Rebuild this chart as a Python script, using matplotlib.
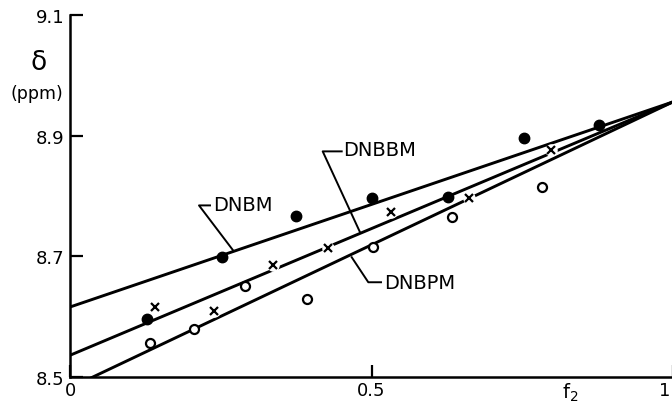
import matplotlib
matplotlib.use("Agg")
import matplotlib.pyplot as plt
from matplotlib.transforms import ScaledTranslation

# ---- data ----
# DNBM (filled circles)
dnbm_x = [0.127, 0.252, 0.375, 0.501, 0.627, 0.753, 0.878]
dnbm_y = [8.596, 8.699, 8.767, 8.797, 8.798, 8.896, 8.917]
# DNBBM (crosses)
dnbbm_x = [0.141, 0.238, 0.336, 0.428, 0.532, 0.662, 0.797]
dnbbm_y = [8.616, 8.609, 8.686, 8.714, 8.773, 8.796, 8.876]
# DNBPM (open circles)
dnbpm_x = [0.132, 0.206, 0.291, 0.393, 0.502, 0.633, 0.783]
dnbpm_y = [8.556, 8.580, 8.651, 8.629, 8.715, 8.765, 8.815]

# fitted lines (end points)
line_x = [0.0, 1.0]
dnbm_line = [8.616, 8.956]
dnbbm_line = [8.536, 8.956]
dnbpm_line = [8.482, 8.956]

x_ticks = [0, 0.5, 1]
x_ticklabels = ["0", "0.5", "1"]
y_ticks = [8.5, 8.7, 8.9, 9.1]
y_ticklabels = ["8.5", "8.7", "8.9", "9.1"]

W, H = 672, 406
fig = plt.figure(figsize=(W / 100, H / 100), dpi=100)
ax = fig.add_axes([70 / W, 28 / H, 603 / W, 362 / H])

lw = 2.1
for ly in (dnbm_line, dnbbm_line, dnbpm_line):
    ax.plot(line_x, ly, color="black", lw=lw, zorder=2, solid_capstyle="butt")

# white halos under crosses (gaps in lines)
ax.plot(dnbbm_x, dnbbm_y, linestyle="none", marker="o", ms=8,
        mfc="white", mec="white", zorder=3)
ax.plot(dnbbm_x, dnbbm_y, linestyle="none", marker="x", ms=6,
        mew=1.6, color="black", zorder=4)
ax.plot(dnbm_x, dnbm_y, linestyle="none", marker="o", ms=7.5,
        color="black", zorder=4)
ax.plot(dnbpm_x, dnbpm_y, linestyle="none", marker="o", ms=6.5,
        mfc="white", mec="black", mew=1.6, zorder=4)

ax.set_xlim(0, 1)
ax.set_ylim(8.5, 9.1)
for s in ("top", "right"):
    ax.spines[s].set_visible(False)
for s in ("left", "bottom"):
    ax.spines[s].set_linewidth(1.8)

ax.set_xticks(x_ticks)
ax.set_xticklabels(x_ticklabels)
ax.set_yticks(y_ticks)
ax.set_yticklabels(y_ticklabels)
ax.tick_params(axis="both", direction="in", length=9, width=1.6,
               labelsize=13, pad=4)
ax.tick_params(axis="x", pad=3)
last = ax.xaxis.get_majorticklabels()[-1]
last.set_transform(last.get_transform() +
                   ScaledTranslation(-8 / 100, 0, fig.dpi_scale_trans))


def px2d(px, py):
    return (px - 70) / 603.0, 8.5 + (378 - py) / 603.0


def leader(points):
    xs, ys = zip(*[px2d(*p) for p in points])
    ax.plot(xs, ys, color="black", lw=1.4, zorder=2, clip_on=False)


fs = 14
# DNBM label
leader([(210, 206.5), (199, 206.5), (233.3, 251.7)])
tx, ty = px2d(213, 206)
ax.text(tx, ty, "DNBM", fontsize=fs, ha="left", va="center")
# DNBBM label
leader([(341.7, 152.5), (322.7, 152.5), (360, 233.3)])
tx, ty = px2d(343, 151)
ax.text(tx, ty, "DNBBM", fontsize=fs, ha="left", va="center")
# DNBPM label
leader([(351.7, 258.3), (368.3, 283.3), (381, 283.3)])
tx, ty = px2d(384, 284)
ax.text(tx, ty, "DNBPM", fontsize=fs, ha="left", va="center")

# axis labels
fig.text(570 / W, 1 - 393 / H, r"$\mathregular{f_2}$", fontsize=14,
         ha="center", va="center")
fig.text(39 / W, 1 - 63 / H, "δ", fontsize=19, ha="center", va="center")
fig.text(37 / W, 1 - 94 / H, "(ppm)", fontsize=12.5, ha="center", va="center")

fig.savefig("out.png", dpi=100)
